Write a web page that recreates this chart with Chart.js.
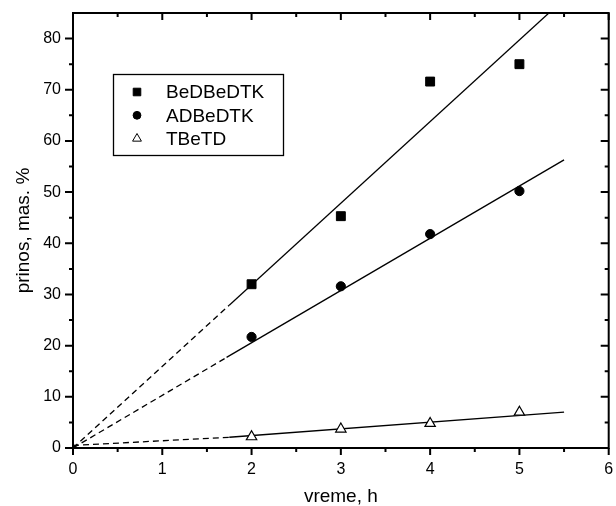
<!DOCTYPE html>
<html>
<head>
<meta charset="utf-8">
<script src="https://cdn.jsdelivr.net/npm/chart.js@4.4.1/dist/chart.umd.min.js"></script>
<style>
  html, body { margin: 0; padding: 0; background: #fff; }
  #wrap { width: 616px; height: 506px; }
</style>
</head>
<body>
<div id="wrap"><canvas id="yieldChart"></canvas></div>
<script>
// Data
const hours = [2, 3, 4, 5];
const bedbedtk = [32, 45.3, 71.6, 75];
const adbedtk = [21.7, 31.6, 41.8, 50.2];
const tbetd = [2.2, 3.7, 4.8, 7.0];

// Fit lines: first segment dashed (extrapolation), second solid
const beLineX = [0, 1.75, 5.33];
const beLineY = [0, 27.9, 85];
const adLineX = [0, 1.72, 5.5];
const adLineY = [0, 17.7, 56.3];
const tbLineX = [0, 1.75, 5.5];
const tbLineY = [0.5, 2.1, 7.0];

const xTicks = [0, 1, 2, 3, 4, 5, 6];
const yTicks = [0, 10, 20, 30, 40, 50, 60, 70, 80];

const toPts = (xs, ys) => xs.map((x, i) => ({ x: x, y: ys[i] }));

const fitLine = (xs, ys) => ({
  type: 'line',
  data: toPts(xs, ys),
  borderColor: '#000',
  borderWidth: 1.3,
  pointRadius: 0,
  fill: false,
  tension: 0,
  segment: {
    borderDash: c => c.p0DataIndex === 0 ? [6, 4] : []
  }
});

// Frame with mirrored in/out ticks like the original plot
const framePlugin = {
  id: 'frame',
  afterDatasetsDraw(chart) {
    const { ctx, chartArea: a, scales: { x, y } } = chart;
    ctx.save();
    ctx.strokeStyle = '#000';
    ctx.lineWidth = 2;
    ctx.strokeRect(a.left, a.top, a.right - a.left, a.bottom - a.top);
    ctx.beginPath();
    for (let v = 0; v <= 6; v += 0.5) {
      const px = x.getPixelForValue(v);
      const len = Number.isInteger(v) ? 7 : 4;
      ctx.moveTo(px, a.bottom); ctx.lineTo(px, a.bottom + len);
      ctx.moveTo(px, a.top); ctx.lineTo(px, a.top + len);
    }
    for (let v = 0; v < 85; v += 5) {
      const py = y.getPixelForValue(v);
      const len = v % 10 === 0 ? 8 : 4;
      ctx.moveTo(a.left, py); ctx.lineTo(a.left - len, py);
      ctx.moveTo(a.right, py); ctx.lineTo(a.right - len, py);
    }
    ctx.stroke();
    ctx.restore();
  }
};

// Boxed legend inside the plot area
const boxLegend = {
  id: 'boxLegend',
  afterDraw(chart) {
    const ctx = chart.ctx;
    const items = chart.data.datasets.filter(d => d.label);
    ctx.save();
    ctx.strokeStyle = '#000';
    ctx.lineWidth = 1.3;
    ctx.strokeRect(113.5, 74.5, 170, 81);
    ctx.font = '19px "Liberation Sans", Arial, sans-serif';
    ctx.textBaseline = 'middle';
    items.forEach((d, i) => {
      const cy = 92 + i * 23.3;
      ctx.fillStyle = d.backgroundColor;
      ctx.strokeStyle = '#000';
      ctx.lineWidth = 1;
      Chart.helpers.drawPoint(ctx, {
        pointStyle: d.pointStyle, radius: d.pointRadius * 0.85, rotation: 0, borderWidth: 1
      }, 137, cy);
      ctx.fillStyle = '#000';
      ctx.fillText(d.label, 166, cy + 1);
    });
    ctx.restore();
  }
};

const noPad = s => { s.paddingLeft = 0; s.paddingRight = 0; s.paddingTop = 0; s.paddingBottom = 0; };

new Chart(document.getElementById('yieldChart'), {
  type: 'scatter',
  data: {
    datasets: [
      {
        label: 'BeDBeDTK', data: toPts(hours, bedbedtk),
        pointStyle: 'rect', pointRadius: 6.3, backgroundColor: '#000', borderColor: '#000', borderWidth: 1
      },
      {
        label: 'ADBeDTK', data: toPts(hours, adbedtk),
        pointStyle: 'circle', pointRadius: 4.6, backgroundColor: '#000', borderColor: '#000', borderWidth: 1
      },
      {
        label: 'TBeTD', data: toPts(hours, tbetd),
        pointStyle: 'triangle', pointRadius: 6, backgroundColor: '#fff', borderColor: '#000', borderWidth: 1.2
      },
      fitLine(beLineX, beLineY),
      fitLine(adLineX, adLineY),
      fitLine(tbLineX, tbLineY)
    ]
  },
  options: {
    responsive: true,
    maintainAspectRatio: false,
    animation: false,
    layout: { padding: { top: 13, right: 5, left: 0, bottom: 0 } },
    plugins: {
      legend: { display: false },
      tooltip: { enabled: false }
    },
    scales: {
      x: {
        type: 'linear', min: 0, max: 6,
        afterFit: s => { s.height = 58; noPad(s); },
        afterBuildTicks: s => { s.ticks = xTicks.map(v => ({ value: v })); },
        ticks: { color: '#000', padding: 12, font: { size: 16, family: '"Liberation Sans", Arial, sans-serif' } },
        grid: { display: false, drawTicks: false },
        border: { display: false },
        title: {
          display: true, text: 'vreme, h', color: '#000',
          padding: { top: 0, bottom: -2 },
          font: { size: 19, family: '"Liberation Sans", Arial, sans-serif' }
        }
      },
      y: {
        type: 'linear', min: 0, max: 85,
        afterFit: s => { s.width = 73; noPad(s); },
        afterBuildTicks: s => { s.ticks = yTicks.map(v => ({ value: v })); },
        ticks: { color: '#000', padding: 12, font: { size: 16, family: '"Liberation Sans", Arial, sans-serif' } },
        grid: { display: false, drawTicks: false },
        border: { display: false },
        title: {
          display: true, text: 'prinos, mas. %', color: '#000',
          padding: { top: 12, bottom: 0 },
          font: { size: 19, family: '"Liberation Sans", Arial, sans-serif' }
        }
      }
    }
  },
  plugins: [framePlugin, boxLegend]
});
</script>
</body>
</html>
